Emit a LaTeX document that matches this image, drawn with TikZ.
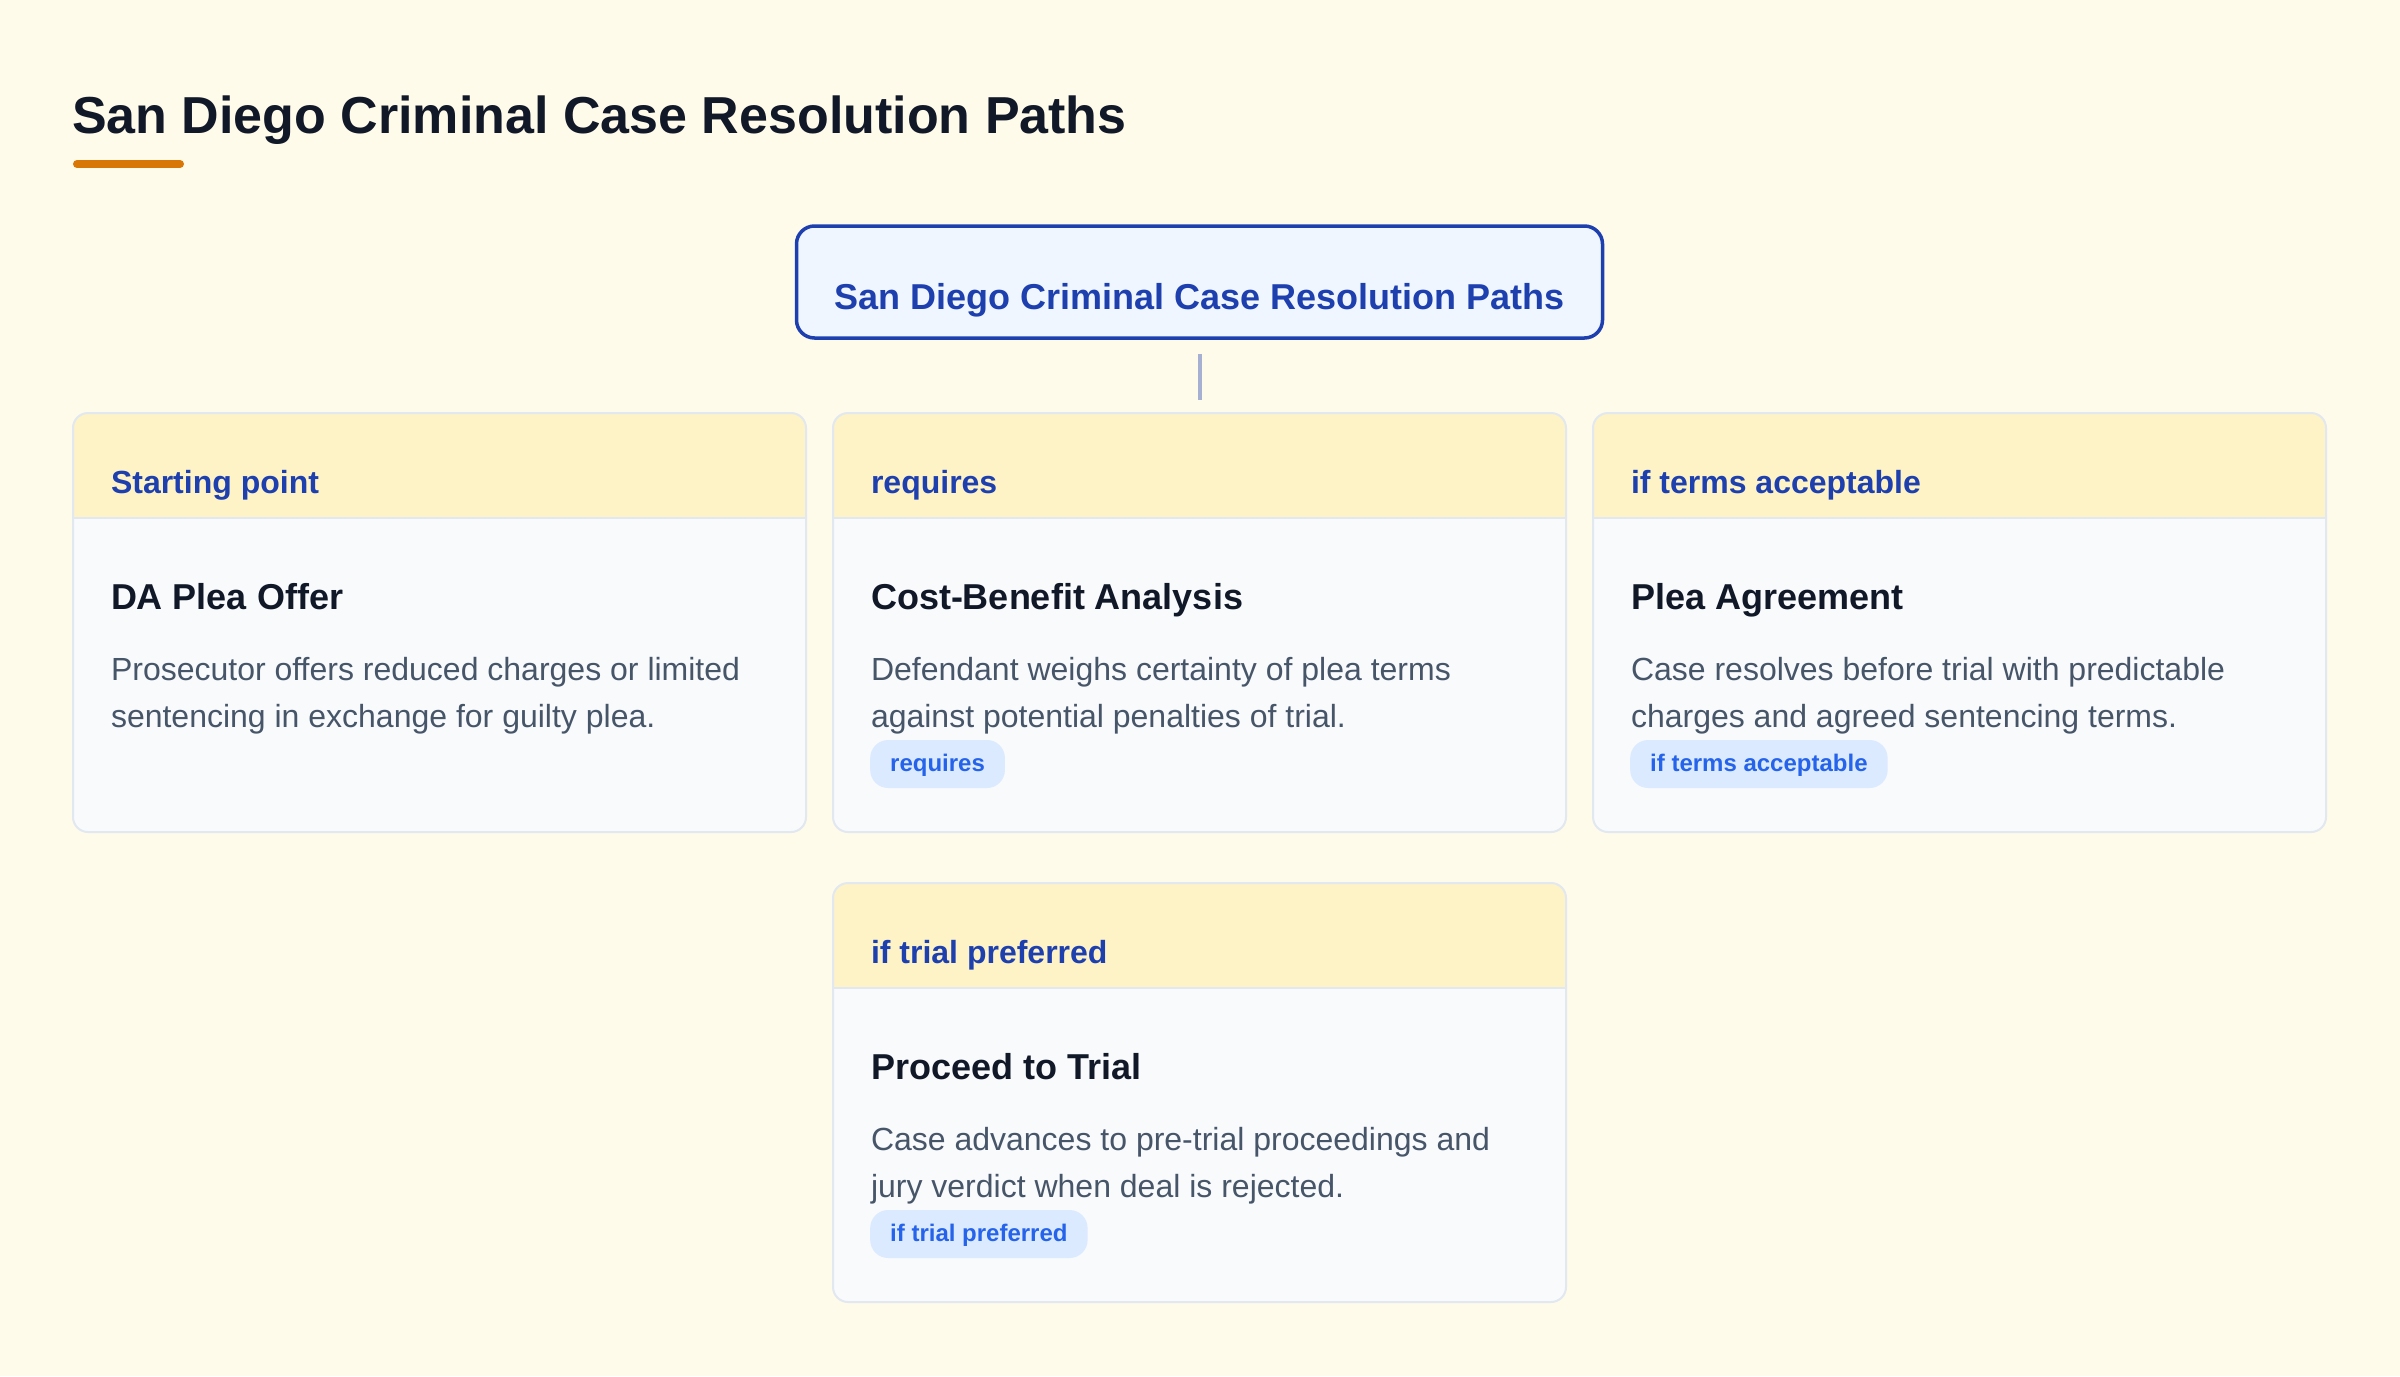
\documentclass[tikz,border=0pt]{standalone}
\usepackage{fontspec}
\setmainfont{Liberation Sans}
\definecolor{bg}{HTML}{FFFBEB}
\definecolor{titlec}{HTML}{111827}
\definecolor{accent}{HTML}{D97706}
\definecolor{topfill}{HTML}{EFF6FF}
\definecolor{blued}{HTML}{1E40AF}
\colorlet{conn}{blued!40!bg}
\definecolor{cardfill}{HTML}{F8FAFC}
\definecolor{cardline}{HTML}{E2E8F0}
\definecolor{hdrfill}{HTML}{FEF3C7}
\definecolor{desc}{HTML}{475569}
\definecolor{pillfill}{HTML}{DBEAFE}
\definecolor{pilltext}{HTML}{2563EB}
\tikzset{
  txt/.style={inner sep=0pt, outer sep=0pt, anchor=base west},
  maintitle/.style={txt, font=\fontsize{52}{60}\selectfont\bfseries, text=titlec},
  topbox/.style={draw=blued, line width=3.5pt, fill=topfill, rounded corners=18pt, inner sep=0pt, minimum width=806pt, minimum height=112pt},
  toptext/.style={inner sep=0pt, anchor=base, font=\fontsize{36}{42}\selectfont\bfseries, text=blued},
  cardbox/.style={fill=cardfill, rounded corners=15pt, inner sep=0pt, outer sep=0pt, minimum width=733pt, minimum height=419pt, anchor=north west},
  cardborder/.style={draw=cardline, line width=2pt, rounded corners=15pt},
  hdrtext/.style={txt, font=\fontsize{32}{38}\selectfont\bfseries, text=blued},
  cardtitle/.style={txt, font=\fontsize{36}{42}\selectfont\bfseries, text=titlec},
  desctext/.style={txt, font=\fontsize{32}{38}\selectfont, text=desc},
  pill/.style={fill=pillfill, rounded corners=18pt, inner xsep=20pt, inner ysep=0pt, text height=31pt, text depth=17pt, anchor=base west, font=\fontsize{24}{28}\selectfont\bfseries, text=pilltext},
  connector/.style={draw=conn, line width=4pt}
}
% #1 name, #2 x, #3 y, #4 header, #5 title, #6 line1, #7 line2
\newcommand\mkcard[7]{%
  \node[cardbox] (#1) at (#2,#3) {};
  \begin{scope}
    \clip[rounded corners=15pt] (#1.north west) rectangle (#1.south east);
    \fill[hdrfill] (#2,#3) rectangle ({#2+733},{#3+105});
  \end{scope}
  \draw[cardline, line width=2pt] (#2,{#3+105}) -- ({#2+733},{#3+105});
  \draw[cardborder] (#1.north west) rectangle (#1.south east);
  \node[hdrtext] (#1h) at ({#2+38},{#3+80}) {#4};
  \node[cardtitle] (#1t) at ({#2+38},{#3+196}) {#5};
  \node[desctext] (#1a) at ({#2+38},{#3+267}) {#6};
  \node[desctext] (#1b) at ({#2+38},{#3+314}) {#7};
}
% #1 name, #2 x, #3 y, #4 text
\newcommand\mkpill[4]{%
  \node[pill] (#1) at ({#2+37},{#3+358}) {#4};
}
\begin{document}
\begin{tikzpicture}[x=1pt,y=-1pt]
  \useasboundingbox (0,0) rectangle (2400,1376);
  \fill[bg] (0,0) rectangle (2400,1376);
  % main title
  \node[maintitle] (title) at (72,133) {San Diego Criminal Case Resolution Paths};
  \draw[accent, line width=8pt, line cap=round] (77,164) -- (180,164);
  % top box
  \node[topbox] (top) at (1199.5,282) {};
  \node[toptext] (toptxt) at (1199.5,309) {San Diego Criminal Case Resolution Paths};
  % cards
  \mkcard{c1}{73}{413}{Starting point}{DA Plea Offer}{Prosecutor offers reduced charges or limited}{sentencing in exchange for guilty plea.}
  \mkcard{c2}{833}{413}{requires}{Cost-Benefit Analysis}{Defendant weighs certainty of plea terms}{against potential penalties of trial.}
  \mkpill{p2}{833}{413}{requires}
  \mkcard{c3}{1593}{413}{if terms acceptable}{Plea Agreement}{Case resolves before trial with predictable}{charges and agreed sentencing terms.}
  \mkpill{p3}{1593}{413}{if terms acceptable}
  \mkcard{c4}{833}{883}{if trial preferred}{Proceed to Trial}{Case advances to pre-trial proceedings and}{jury verdict when deal is rejected.}
  \mkpill{p4}{833}{883}{if trial preferred}
  % connector
  \draw[connector] ([yshift=-14pt]top.south) -- ([yshift=13pt]c2.north);
\end{tikzpicture}
\end{document}
